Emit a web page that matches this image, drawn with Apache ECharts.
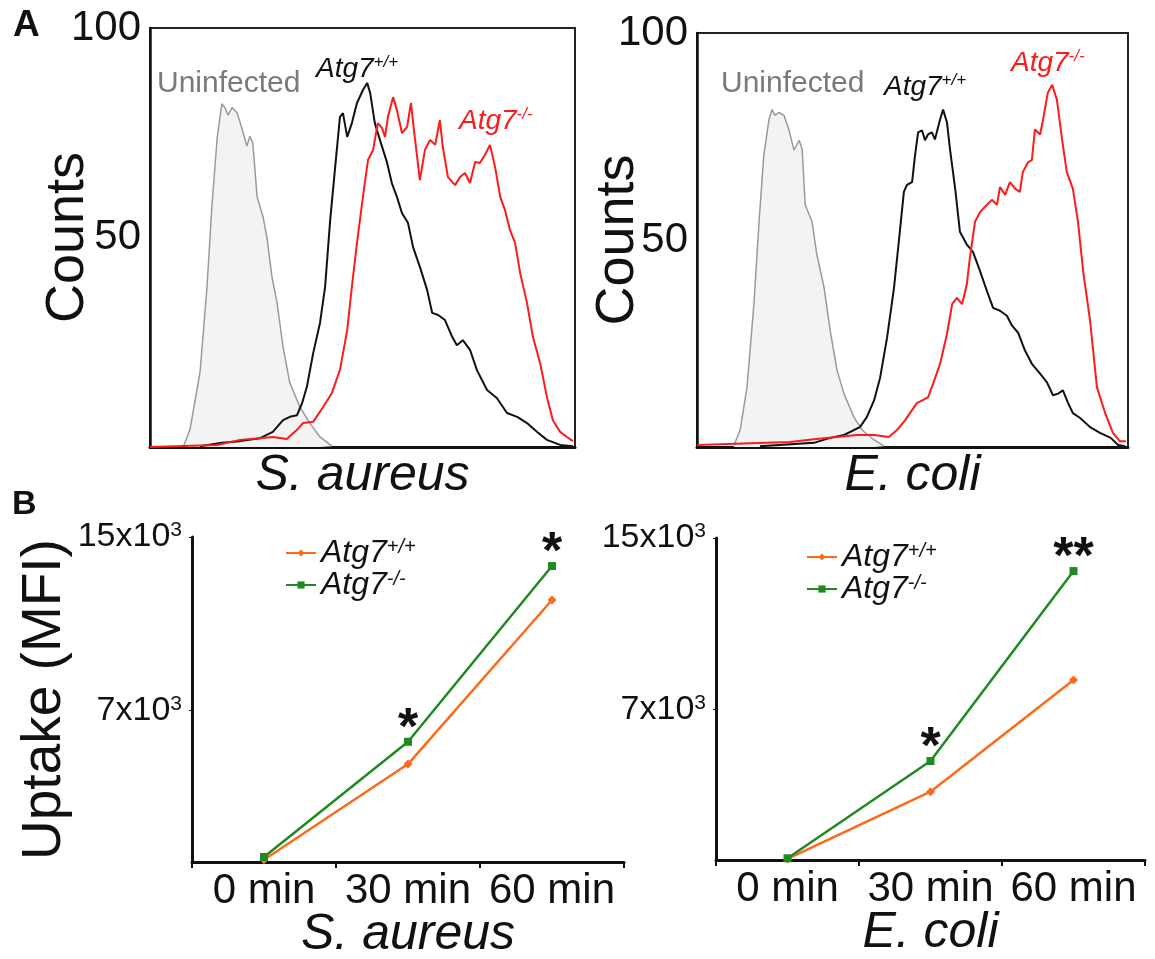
<!DOCTYPE html>
<html lang="en">
<head>
<meta charset="UTF-8">
<title>Atg7 bacterial uptake</title>
<script src="https://cdn.jsdelivr.net/npm/echarts@6/dist/echarts.min.js"></script>
<style>
  html, body { margin: 0; padding: 0; background: #fff; }
  #main { width: 1155px; height: 959px; }
</style>
</head>
<body>
<div id="main"></div>
<script type="text/javascript">
// ---- panel A: flow histograms, [fluorescence channel (0-100), counts] ----
var saUninfected = [[7.8,0],[9.4,4.1],[11.8,18.1],[13.4,38],[14.6,58],[15.8,73.7],[16.9,81.9],[17.6,81],[18.4,79.2],[19.3,81],[20.5,79.7],[21.6,76.1],[22.8,71.8],[23.5,74.2],[24.2,72.5],[25.2,59.7],[26.6,54.9],[27.5,50.1],[28.7,40.6],[29.9,34.4],[31.3,23.9],[32.9,15.3],[35.3,9.5],[37.6,5.7],[40,2.4],[42.8,0.2]];
var saWT = [[11.8,0.2],[16.9,1],[21.2,1.4],[25.9,2.1],[28.9,3.6],[31.3,6.4],[32.9,7.2],[34.6,7.6],[35.8,10.5],[36.9,14.3],[38.4,22.4],[40,29.6],[41.2,38.2],[42.4,54.2],[43.5,66.1],[44.7,78.8],[45.4,79.7],[46.4,74],[47.5,77.3],[48.7,82.1],[50.1,85.2],[51.1,86.9],[51.8,84.5],[52.9,77.3],[54.1,73.3],[55.8,67.8],[56.9,63],[58.1,59.7],[59.3,55.8],[60.7,53.5],[61.9,47.7],[63.5,43],[65.2,37.5],[66.4,32],[67.8,31.5],[69.4,30.3],[71.1,26.3],[72.2,24.3],[73.6,25.5],[75.3,23.2],[76.9,18.4],[79.3,13.6],[81.6,11.7],[84,8.1],[86.4,7.2],[88.7,5.7],[91.1,3.6],[93.4,1.7],[96.5,0.5],[99.5,0.2]];
var saKO = [[0,0],[15.8,0.5],[21.2,1.7],[25.9,2.1],[28.9,2.4],[32.2,1.9],[34.6,4.1],[36,5.7],[38.4,6],[40.7,9.5],[42.8,12.9],[44.7,18.4],[46.4,27.9],[47.5,38.2],[48.7,48.7],[50.1,59.7],[51.3,68.5],[52.5,70.9],[53.6,77.3],[54.6,76.1],[55.3,74],[56,78.8],[57.2,83.5],[58.1,80.4],[59.3,74.9],[60.5,76.4],[61.4,82.1],[62.1,75.7],[63.5,63.7],[64.7,70.9],[65.9,73.3],[67.1,72.1],[68.2,78],[68.9,71.6],[70.1,64.4],[71.8,62.5],[72.9,64.4],[74.1,65.4],[75.3,63],[76.5,68],[77.6,67.8],[78.8,69.7],[80,72.1],[81.2,66.8],[82.4,59.7],[83.5,56.6],[84.7,51.8],[85.9,48.7],[87.1,41.5],[88.7,34.4],[90.1,26.3],[91.8,20],[93.4,11.9],[94.8,6.4],[96.5,3.6],[98.1,2.4],[99.5,1.4]];

var ecUninfected = [[8.6,0.5],[10,4.1],[11.6,14.4],[13.2,34.5],[14.4,54.4],[15.5,70.5],[16.7,79.1],[17.4,81.5],[18.1,80.1],[19,80.8],[20.2,80.1],[21.3,76.7],[22.5,71.7],[23.7,74.1],[24.4,71.9],[25.1,58.5],[26.7,54.4],[27.8,46.5],[29.5,38.4],[30.9,28.1],[32.5,18.5],[34.1,12.9],[36.4,7.2],[38.3,4.1],[41.1,1.7],[43.4,0.2]];
var ecWT = [[14.6,0.2],[27.1,1],[30.9,2.2],[34.1,2.9],[36.4,4.1],[37.8,4.8],[39.4,7.2],[41.1,11.3],[42.5,16.8],[44.1,26.4],[45.7,38.4],[46.9,50.4],[48,61.6],[48.7,63.3],[49.9,64],[50.6,70.5],[51.3,76],[52.2,76.5],[52.9,74.1],[53.6,75.5],[54.5,76],[55.2,74.3],[56.4,79.1],[57.1,81.5],[58,78.4],[58.7,71.9],[59.9,62.4],[61,52],[62.6,48.9],[64,47.2],[65.7,42.4],[67.3,37.6],[68.7,33.6],[70.3,32.9],[71.9,31.7],[73.1,29.3],[74.5,27.6],[76.1,23.3],[77.7,20.1],[79.6,17.7],[81.2,15.6],[82.6,12.5],[83.8,12.9],[84.9,13.7],[86.1,10.6],[87.2,8.2],[88.9,7],[91.2,4.8],[93.5,3.4],[96,2.2],[97.7,0.5],[99.3,0.2]];
var ecKO = [[0,0.5],[21.6,1.2],[27.1,1.9],[32.5,2.4],[37.1,2.9],[41.1,2.9],[44.5,2.4],[46.4,4.1],[48.3,6.5],[51,10.6],[52.4,11.3],[53.6,12],[54.8,15.3],[56.4,20.1],[58,27.3],[59.2,34.5],[60.3,36],[61.5,34.5],[62.6,39.3],[63.3,45.6],[64.5,54.4],[65.7,56.8],[67.3,58.5],[68.4,59.7],[69.6,58.5],[70.3,62.8],[71.5,60.9],[72.6,64],[73.8,62.4],[74.9,61.6],[75.6,66.4],[76.8,68.8],[77.7,69.3],[78.4,76.7],[79.6,75.5],[80.3,79.1],[81.4,85.6],[82.4,87.5],[83.5,83.9],[84.7,74.3],[85.8,66.4],[87.2,62.4],[88.4,54.4],[89.6,42.4],[91.2,30.5],[92.8,14.4],[94.7,8.2],[96.5,3.4],[98.1,1.4],[99.5,1.4]];
var countTicks = [50, 100];

// ---- panel B: uptake (MFI) over time ----
var timeLabels = ['0 min', '30 min', '60 min'];
var saWTUptake = [100, 4520, 12090];
var saKOUptake = [230, 5550, 13660];
var ecWTUptake = [50, 3180, 8390];
var ecKOUptake = [80, 4610, 13460];
var saSig = ['', '*', '*'];
var ecSig = ['', '*', '**'];
var mfiTicks = [7000, 15000];

var FONT = '"Liberation Sans", Arial, Helvetica, sans-serif';
var INK = '#111';
var ORANGE = '#ff6a1a';
var GREEN = '#1f8a22';

var myChart = echarts.init(document.getElementById('main'));

function histXAxis(idx, name) {
    return {
        gridIndex: idx, type: 'value', min: 0, max: 100,
        axisLabel: { show: false }, axisTick: { show: false }, splitLine: { show: false },
        axisLine: { lineStyle: { color: INK, width: 3 } },
        name: name, nameLocation: 'middle', nameGap: 4, nameMoveOverlap: false,
        nameTextStyle: { fontSize: 50, fontStyle: 'italic', color: INK, fontFamily: FONT }
    };
}
function histYAxis(idx, gap) {
    return {
        gridIndex: idx, type: 'value', min: 0, max: 100,
        axisLine: { show: true, lineStyle: { color: INK, width: 2.5 } },
        axisTick: { show: false }, splitLine: { show: false },
        axisLabel: { customValues: countTicks, fontSize: 42, color: INK, margin: 9, fontFamily: FONT },
        name: 'Counts', nameLocation: 'middle', nameRotate: 90, nameGap: gap, nameMoveOverlap: false,
        nameTextStyle: { fontSize: 54, color: INK, fontFamily: FONT }
    };
}
function timeXAxis(idx, name) {
    return {
        gridIndex: idx, type: 'category', data: timeLabels, boundaryGap: true,
        axisLine: { lineStyle: { color: INK, width: 3 } },
        axisTick: { show: true, length: 6, lineStyle: { color: INK, width: 2 } },
        axisLabel: { interval: 0, fontSize: 42, color: INK, margin: 8, fontFamily: FONT },
        name: name, nameLocation: 'middle', nameGap: 48, nameMoveOverlap: false,
        nameTextStyle: { fontSize: 50, fontStyle: 'italic', color: INK, fontFamily: FONT }
    };
}
function mfiYAxis(idx, withName) {
    var ax = {
        gridIndex: idx, type: 'value', min: 0, max: 15000,
        axisLine: { show: true, lineStyle: { color: INK, width: 3 } },
        axisTick: { show: true, customValues: mfiTicks, length: 3, lineStyle: { color: INK } },
        splitLine: { show: false },
        axisLabel: {
            customValues: mfiTicks, fontSize: 34, color: INK, margin: 10, fontFamily: FONT,
            formatter: function (v) { return (v / 1000) + 'x10{sup|3}'; },
            rich: { sup: { fontSize: 21, lineHeight: 16, verticalAlign: 'top', color: INK, fontFamily: FONT } }
        }
    };
    if (withName) {
        ax.name = 'Uptake (MFI)';
        ax.nameLocation = 'middle';
        ax.nameRotate = 90;
        ax.nameGap = 120;
        ax.nameMoveOverlap = false;
        ax.nameTextStyle = { fontSize: 55, color: INK, fontFamily: FONT };
    }
    return ax;
}

function histSeries(idx, data, color, width, fill) {
    var s = {
        type: 'line', xAxisIndex: idx, yAxisIndex: idx, data: data,
        symbol: 'none', smooth: false, silent: true,
        lineStyle: { color: color, width: width }
    };
    if (fill) s.areaStyle = { color: fill, opacity: 1 };
    return s;
}
function uptakeSeries(idx, name, data, color, symbol, sig) {
    var s = {
        type: 'line', name: name, xAxisIndex: idx, yAxisIndex: idx, data: data,
        symbol: symbol, symbolSize: symbol === 'rect' ? 8 : 9, showAllSymbol: true,
        itemStyle: { color: color }, lineStyle: { color: color, width: 2.5 }
    };
    if (sig) {
        s.label = {
            show: true, position: 'top', distance: -18,
            formatter: function (p) { return sig[p.dataIndex]; },
            fontSize: 52, fontWeight: 'bold', color: INK, fontFamily: FONT
        };
    }
    return s;
}

function legendAt(left, top) {
    return {
        orient: 'vertical', left: left, top: top, itemWidth: 30, itemHeight: 9, itemGap: 0,
        selectedMode: false, data: ['Atg7+/+', 'Atg7-/-'],
        formatter: function (n) { return 'Atg7{sup|' + n.slice(4) + '}'; },
        textStyle: {
            fontSize: 32, fontStyle: 'italic', color: INK, fontFamily: FONT, lineHeight: 31,
            rich: { sup: { fontSize: 20, fontStyle: 'italic', lineHeight: 14, verticalAlign: 'top', color: INK, fontFamily: FONT } }
        }
    };
}

function note(left, top, main, sup, color, size) {
    return {
        type: 'text', left: left, top: top, silent: true,
        style: {
            text: sup ? main + '{sup|' + sup + '}' : main,
            fill: color, fontSize: size, fontStyle: sup ? 'italic' : 'normal', fontFamily: FONT,
            lineHeight: size + 2,
            rich: { sup: { fontSize: Math.round(size * 0.62), fontStyle: 'italic', fill: color, fontFamily: FONT, lineHeight: 12, verticalAlign: 'top' } }
        }
    };
}

var option = {
    animation: false,
    backgroundColor: '#fff',
    grid: [
        { left: 150, top: 28, width: 425, height: 419, show: true, borderColor: '#222', borderWidth: 2, outerBoundsMode: 'none', containLabel: false },
        { left: 697, top: 33, width: 431, height: 414, show: true, borderColor: '#222', borderWidth: 2, outerBoundsMode: 'none', containLabel: false },
        { left: 192, top: 537, width: 432, height: 325, outerBoundsMode: 'none', containLabel: false },
        { left: 716, top: 538, width: 429, height: 322, outerBoundsMode: 'none', containLabel: false }
    ],
    xAxis: [histXAxis(0, 'S. aureus'), histXAxis(1, 'E. coli'), timeXAxis(2, 'S. aureus'), timeXAxis(3, 'E. coli')],
    yAxis: [histYAxis(0, 55), histYAxis(1, 52), mfiYAxis(2, true), mfiYAxis(3, false)],
    legend: [legendAt(280, 532), legendAt(801, 536)],
    series: [
        histSeries(0, saUninfected, '#9a9a9a', 1.5, '#f3f3f3'),
        histSeries(0, saWT, INK, 2),
        histSeries(0, saKO, '#ff1a1a', 2),
        histSeries(1, ecUninfected, '#9a9a9a', 1.5, '#f3f3f3'),
        histSeries(1, ecWT, INK, 2),
        histSeries(1, ecKO, '#ff1a1a', 2),
        uptakeSeries(2, 'Atg7+/+', saWTUptake, ORANGE, 'diamond'),
        uptakeSeries(2, 'Atg7-/-', saKOUptake, GREEN, 'rect', saSig),
        uptakeSeries(3, 'Atg7+/+', ecWTUptake, ORANGE, 'diamond'),
        uptakeSeries(3, 'Atg7-/-', ecKOUptake, GREEN, 'rect', ecSig)
    ],
    graphic: [
        { type: 'text', left: 13, top: 7, style: { text: 'A', fontSize: 37, fontWeight: 'bold', fill: INK, fontFamily: FONT } },
        { type: 'text', left: 12, top: 488, style: { text: 'B', fontSize: 34, fontWeight: 'bold', fill: INK, fontFamily: FONT } },
        note(157, 68, 'Uninfected', null, '#7a7a7a', 30),
        note(316, 54, 'Atg7', '+/+', INK, 28),
        note(459, 106, 'Atg7', '-/-', '#ff1a1a', 28),
        note(721, 68, 'Uninfected', null, '#7a7a7a', 30),
        note(884, 72, 'Atg7', '+/+', INK, 28),
        note(1011, 48, 'Atg7', '-/-', '#ff1a1a', 28)
    ]
};

myChart.setOption(option);
</script>
</body>
</html>
